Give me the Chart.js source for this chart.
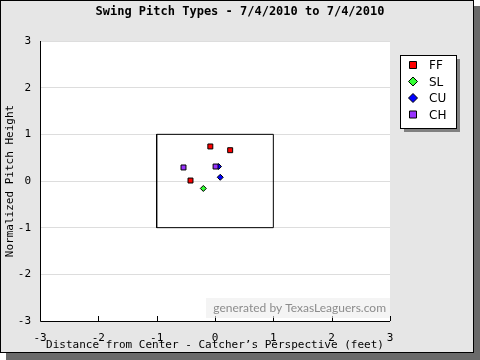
<!DOCTYPE html>
<html>
<head>
<meta charset="utf-8">
<script src="https://cdn.jsdelivr.net/npm/chart.js@4"></script>
<style>
  html, body { margin: 0; padding: 0; background: #ffffff; }
  #wrap { width: 480px; height: 360px; position: relative; }
</style>
</head>
<body>
<div id="wrap"><canvas id="chart" width="480" height="360"></canvas></div>
<script>
// Pitch locations (feet)
const ffX = [-0.08, 0.26, -0.42];
const ffY = [0.74, 0.66, 0.01];
const slX = [-0.20];
const slY = [-0.16];
const cuX = [0.09, 0.06];
const cuY = [0.08, 0.31];
const chX = [-0.54, 0.01];
const chY = [0.29, 0.31];

// strike zone corners
const zoneX = [-1, 1, 1, -1, -1];
const zoneY = [-1, -1, 1, 1, -1];

const axisTicks = [-3, -2, -1, 0, 1, 2, 3];

const titleText = 'Swing Pitch Types - 7/4/2010 to 7/4/2010';
const mono = '"DejaVu Sans Mono", "Liberation Mono", monospace';

const toPoints = (xs, ys) => xs.map((x, i) => ({ x: x, y: ys[i] }));

const legendItems = [
    { label: 'FF', color: '#ff0000', style: 'rect' },
    { label: 'SL', color: '#33ff33', style: 'rectRot' },
    { label: 'CU', color: '#0000ff', style: 'rectRot' },
    { label: 'CH', color: '#9933ff', style: 'rect' }
];

// background, frame and shadow
const framePlugin = {
    id: 'frame',
    beforeDraw(chart) {
        const ctx = chart.ctx;
        ctx.save();
        ctx.fillStyle = '#ffffff';
        ctx.fillRect(0, 0, 480, 360);
        ctx.fillStyle = '#6a6a6a';
        ctx.fillRect(6, 6, 474, 354);
        ctx.fillStyle = '#e6e6e6';
        ctx.fillRect(0, 0, 474, 353);
        ctx.strokeStyle = '#000000';
        ctx.lineWidth = 1;
        ctx.strokeRect(0.5, 0.5, 473, 352);

        const a = chart.chartArea;
        ctx.fillStyle = '#ffffff';
        ctx.fillRect(a.left, a.top, a.right - a.left, a.bottom - a.top);

        // title
        ctx.fillStyle = '#000000';
        ctx.font = 'bold 12px ' + mono;
        ctx.textAlign = 'center';
        ctx.textBaseline = 'middle';
        ctx.fillText(titleText, 240, 12);
        ctx.restore();
    },
    afterDatasetsDraw(chart) {
        const ctx = chart.ctx;
        const a = chart.chartArea;
        const xs = chart.scales.x;
        ctx.save();
        // axis lines
        ctx.strokeStyle = '#000000';
        ctx.lineWidth = 1;
        ctx.beginPath();
        ctx.moveTo(a.left + 0.5, a.top);
        ctx.lineTo(a.left + 0.5, a.bottom + 0.5);
        ctx.lineTo(a.right, a.bottom + 0.5);
        ctx.stroke();
        // x ticks pointing up
        axisTicks.forEach(v => {
            const px = Math.round(xs.getPixelForValue(v)) + 0.5;
            ctx.beginPath();
            ctx.moveTo(px, a.bottom);
            ctx.lineTo(px, a.bottom - 5);
            ctx.stroke();
        });

        // watermark
        ctx.fillStyle = 'rgba(236,236,236,0.6)';
        ctx.fillRect(206, 298, 184, 20);
        ctx.fillStyle = '#8c8c8c';
        ctx.font = '12px Lato, "Open Sans", sans-serif';
        ctx.textAlign = 'right';
        ctx.textBaseline = 'middle';
        ctx.fillText('generated by TexasLeaguers.com', 386, 308);

        // legend box
        const lx = 400, ly = 55, lw = 56, lh = 73;
        ctx.fillStyle = '#808080';
        ctx.fillRect(lx + 4, ly + 4, lw, lh);
        ctx.fillStyle = '#ffffff';
        ctx.fillRect(lx, ly, lw, lh);
        ctx.strokeStyle = '#000000';
        ctx.strokeRect(lx + 0.5, ly + 0.5, lw, lh);
        legendItems.forEach((item, i) => {
            const cy = ly + 10 + i * 16.5;
            ctx.fillStyle = item.color;
            ctx.strokeStyle = '#000000';
            ctx.beginPath();
            if (item.style === 'rect') {
                ctx.rect(lx + 9.5, cy - 3.5, 7, 7);
            } else {
                ctx.moveTo(lx + 13, cy - 4.5);
                ctx.lineTo(lx + 17.5, cy);
                ctx.lineTo(lx + 13, cy + 4.5);
                ctx.lineTo(lx + 8.5, cy);
                ctx.closePath();
            }
            ctx.fill();
            ctx.stroke();
            ctx.fillStyle = '#000000';
            ctx.font = '12px "DejaVu Sans", sans-serif';
            ctx.textAlign = 'left';
            ctx.textBaseline = 'middle';
            ctx.fillText(item.label, lx + 29, cy + 1);
        });
        ctx.restore();
    }
};

const markerSet = (label, xs, ys, color, style, size, order) => ({
    label: label,
    type: 'scatter',
    data: toPoints(xs, ys),
    backgroundColor: color,
    borderColor: '#000000',
    borderWidth: 1,
    pointStyle: style,
    pointRadius: size,
    pointHoverRadius: size,
    order: order
});

const chart = new Chart(document.getElementById('chart'), {
    type: 'scatter',
    data: {
        datasets: [
            {
                label: 'zone',
                type: 'line',
                data: toPoints(zoneX, zoneY),
                borderColor: '#000000',
                borderWidth: 1,
                pointRadius: 0,
                fill: false,
                tension: 0,
                order: 10
            },
            markerSet('CU', cuX, cuY, '#0000ff', 'rectRot', 3, 5),
            markerSet('SL', slX, slY, '#33ff33', 'rectRot', 3, 4),
            markerSet('FF', ffX, ffY, '#ff0000', 'rect', 3.5, 3),
            markerSet('CH', chX, chY, '#9933ff', 'rect', 3.5, 2)
        ]
    },
    options: {
        responsive: false,
        animation: false,
        layout: { padding: { top: 41, right: 90, left: 0, bottom: 0 } },
        plugins: {
            legend: { display: false },
            tooltip: { enabled: false }
        },
        scales: {
            x: {
                type: 'linear',
                min: -3,
                max: 3,
                afterBuildTicks: (s) => { s.ticks = axisTicks.map(v => ({ value: v })); },
                afterFit: (s) => { s.height = 39; },
                grid: { display: false, drawTicks: false },
                border: { display: false },
                ticks: {
                    color: '#000000',
                    font: { family: mono, size: 11 },
                    padding: 11,
                    maxRotation: 0
                },
                title: {
                    display: true,
                    text: 'Distance from Center - Catcher\u2019s Perspective (feet)',
                    color: '#000000',
                    font: { family: mono, size: 11 },
                    padding: { top: 0, bottom: 8 }
                }
            },
            y: {
                type: 'linear',
                min: -3,
                max: 3,
                afterBuildTicks: (s) => { s.ticks = axisTicks.map(v => ({ value: v })); },
                afterFit: (s) => { s.width = 40; },
                grid: { color: '#dddddd', drawTicks: false },
                border: { display: false },
                ticks: {
                    color: '#000000',
                    font: { family: mono, size: 11 },
                    padding: 9
                },
                title: {
                    display: true,
                    text: 'Normalized Pitch Height',
                    color: '#000000',
                    font: { family: mono, size: 11 },
                    padding: { top: 4, bottom: 0 }
                }
            }
        }
    },
    plugins: [framePlugin]
});
</script>
</body>
</html>
